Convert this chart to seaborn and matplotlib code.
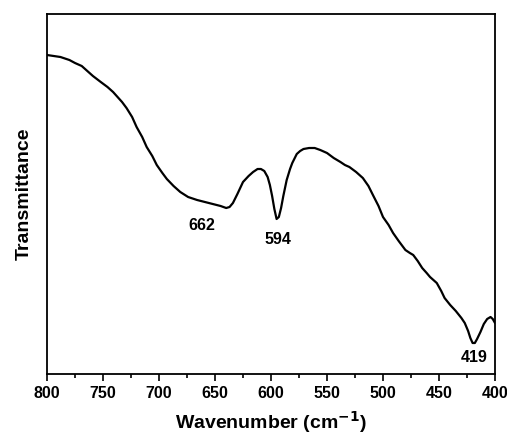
import numpy as np
import pandas as pd
import matplotlib
matplotlib.use("Agg")
import matplotlib.pyplot as plt
import seaborn as sns
from matplotlib.ticker import MultipleLocator

wavenumber = [800, 794, 788, 780, 775, 769, 764, 759, 752, 746, 741, 737, 733, 729, 724,
              720, 715, 711, 706, 702, 697, 693, 687, 681, 674, 666, 659, 652, 645, 640,
              637, 634, 630, 625, 620, 616, 612, 609, 606, 603, 601, 599, 597, 595, 593,
              591, 589, 586, 583, 581, 577, 574, 571, 566, 561, 556, 550, 544, 538, 534,
              530, 524, 518, 513, 509, 504, 500, 495, 491, 486, 480, 476, 473, 469, 465,
              461, 458, 455, 452, 448, 445, 440, 435, 430, 427, 424, 422, 420, 418, 416,
              413, 410, 407, 404, 402, 400]
transmittance = [319, 318, 317, 314, 311, 308, 303, 298, 292, 287, 282, 277, 272, 266, 257,
                 247, 237, 227, 218, 209, 201, 195, 188, 182, 177, 174, 172, 170, 168, 166,
                 167, 171, 180, 192, 198, 202, 205, 205, 203, 197, 189, 178, 165, 155, 157,
                 166, 178, 194, 205, 211, 220, 223, 225, 226, 226, 224, 221, 216, 212, 209,
                 207, 202, 196, 188, 179, 168, 157, 149, 141, 133, 124, 121, 119, 113, 106,
                 101, 97, 94, 91, 83, 76, 69, 63, 56, 51, 43, 36, 31, 31, 35,
                 42, 50, 55, 57, 55, 51]
peak_labels = ["662", "594", "419"]
peak_pos = [662, 594, 419]
peak_y = [148, 134, 16]

df = pd.DataFrame({"w": wavenumber, "t": transmittance})

sns.set_style("ticks")
plt.rcParams['font.family'] = ['Liberation Sans', 'DejaVu Sans']
plt.rcParams['text.color'] = 'black'
plt.rcParams['axes.labelcolor'] = 'black'
plt.rcParams['xtick.color'] = 'black'
plt.rcParams['ytick.color'] = 'black'

fig = plt.figure(figsize=(5.07, 4.34), dpi=100)
ax = fig.add_axes([47/507, 60/434, 448/507, 360/434])
sns.lineplot(data=df, x="w", y="t", ax=ax, color="black", linewidth=1.6, sort=False)

ax.set_xlim(800, 400)
ax.set_ylim(0, 360)
ax.xaxis.set_major_locator(MultipleLocator(50))
ax.xaxis.set_minor_locator(MultipleLocator(25))
ax.set_yticks([])
ax.tick_params(axis='x', which='major', direction='out', length=5, width=1.2, labelsize=11.5, colors='black')
ax.tick_params(axis='x', which='minor', direction='out', length=3, width=1.2, colors='black')
for lab in ax.get_xticklabels():
    lab.set_fontweight('bold')
for s in ax.spines.values():
    s.set_visible(True)
    s.set_linewidth(1.3)
    s.set_color('black')

for lab, xp, yp in zip(peak_labels, peak_pos, peak_y):
    ax.text(xp, yp, lab, ha='center', va='center', fontsize=11.5, fontweight='bold', color='black')

ax.set_xlabel("Wavenumber (cm$^{\\mathbf{-1}}$)", fontsize=14, fontweight='bold', labelpad=6, color='black')
ax.set_ylabel("Transmittance", fontsize=14, fontweight='bold', labelpad=10, color='black')

fig.savefig("out.png", dpi=100)
